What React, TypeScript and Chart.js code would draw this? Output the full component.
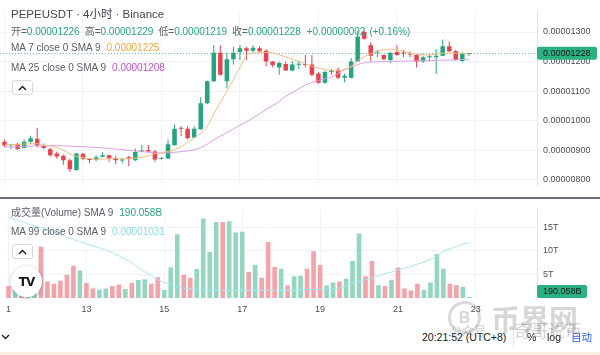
import React, { useEffect, useRef } from 'react';
import { Chart, registerables } from 'chart.js';

Chart.register(...registerables);

// ---------------- data ----------------
// 4h candles, 11th 00:00 -> 22nd 20:00 (UTC+8). Prices in units of 1e-8 USDT.
const OPEN = [
  929, 917, 921, 908, 929, 939, 915, 903, 889, 881,
  866, 833, 888, 871, 868, 878, 883, 874, 865, 876,
  866, 894, 901, 896, 871, 872, 917, 976, 973, 943,
  971, 1059, 1133, 1230, 1133, 1208, 1232, 1245, 1237, 1245,
  1237, 1200, 1180, 1192, 1170, 1189, 1192, 1190, 1160, 1128,
  1165, 1172, 1145, 1145, 1200, 1300, 1255, 1231, 1222, 1205,
  1232, 1229, 1226, 1222, 1200, 1215, 1215, 1220, 1252, 1235,
  1202, 1226,
];
const HIGH = [
  936, 920, 926, 936, 949, 976, 923, 908, 896, 886,
  871, 891, 891, 873, 883, 893, 886, 881, 873, 881,
  906, 918, 918, 901, 876, 936, 986, 981, 981, 981,
  1079, 1136, 1255, 1255, 1230, 1250, 1257, 1250, 1255, 1253,
  1242, 1202, 1200, 1200, 1202, 1202, 1222, 1222, 1165, 1170,
  1175, 1180, 1160, 1212, 1305, 1305, 1265, 1240, 1225, 1232,
  1255, 1240, 1235, 1225, 1220, 1225, 1242, 1275, 1268, 1240,
  1232, 1229,
];
const LOW = [
  911, 903, 901, 906, 921, 909, 903, 878, 871, 851,
  826, 831, 866, 856, 863, 876, 861, 853, 856, 846,
  864, 893, 893, 861, 869, 871, 916, 948, 936, 941,
  969, 1056, 1130, 1152, 1110, 1190, 1205, 1205, 1230, 1230,
  1184, 1180, 1155, 1168, 1168, 1175, 1180, 1150, 1125, 1125,
  1155, 1140, 1130, 1143, 1200, 1274, 1200, 1215, 1205, 1195,
  1220, 1215, 1215, 1180, 1195, 1200, 1158, 1218, 1232, 1202,
  1198, 1219,
];
const CLOSE = [
  916, 919, 904, 929, 941, 916, 908, 883, 879, 866,
  836, 889, 871, 867, 876, 883, 871, 866, 869, 871,
  894, 899, 896, 869, 873, 920, 973, 973, 941, 973,
  1059, 1133, 1230, 1155, 1208, 1230, 1245, 1237, 1247, 1235,
  1200, 1188, 1195, 1170, 1190, 1190, 1188, 1155, 1128, 1165,
  1170, 1145, 1152, 1200, 1285, 1277, 1220, 1232, 1208, 1230,
  1222, 1227, 1224, 1200, 1215, 1218, 1220, 1252, 1235, 1205,
  1226, 1228,
];
// "MA 7 close 0 SMA 9" (orange) and "MA 25 close 0 SMA 9" (violet)
const MA7 = [
  918, 919, 920, 921, 922, 922, 916, 914, 909, 900,
  888, 879, 875, 872, 870, 870, 872, 872, 871, 871,
  873, 876, 881, 888, 891, 896, 902, 912, 927, 942,
  957, 981, 1023, 1062, 1100, 1139, 1181, 1220, 1228, 1230,
  1231, 1229, 1223, 1216, 1208, 1201, 1192, 1184, 1178, 1174,
  1169, 1169, 1174, 1184, 1202, 1216, 1226, 1235, 1240, 1240,
  1240, 1235, 1228, 1225, 1223, 1222, 1225, 1228, 1229, 1228,
  1228, 1225,
];
const MA25 = [
  910, 911, 912, 913, 914, 915, 915, 916, 915, 915,
  914, 913, 912, 911, 909, 908, 906, 904, 902, 900,
  898, 896, 893, 891, 890, 891, 893, 895, 898, 902,
  909, 921, 935, 948, 960, 972, 984, 996, 1009, 1023,
  1038, 1051, 1065, 1083, 1095, 1108, 1120, 1129, 1136, 1142,
  1148, 1160, 1172, 1181, 1190, 1196, 1198, 1199, 1200, 1200,
  1201, 1201, 1202, 1202, 1203, 1203, 1204, 1205, 1205, 1206,
  1207, 1208,
];
// Volume in billions (B)
const VOLUME_B = [
  2530, 1710, 2500, 1700, 2500, 10900, 3480, 3040, 3670, 4940,
  6840, 5820, 3160, 2020, 1770, 2020, 2530, 2850, 1900, 3160,
  3800, 4000, 3040, 4430, 1710, 6520, 13550, 4940, 4300, 6140,
  16900, 9750, 16150, 16150, 16300, 13900, 14060, 5500, 7030, 4300,
  11900, 6600, 6200, 2660, 4600, 4750, 6200, 9940, 7030, 2660,
  3300, 3480, 4100, 7850, 13700, 4600, 7850, 2720, 2530, 3900,
  6460, 2020, 1580, 3040, 1710, 3300, 9370, 6200, 3040, 2720,
  2400, 190.058,
];
// "MA 99 close 0 SMA 9" shown in the volume pane on its own scale (units of 1e-8)
const MA99 = [
  1088, 1083, 1079, 1073, 1069, 1064, 1060, 1055, 1049, 1043,
  1038, 1033, 1028, 1023, 1019, 1014, 1008, 1001, 993, 985,
  975, 965, 956, 947, 941, 935, 931, 928, 926, 925,
  924, 923, 923, 923, 923, 923, 923, 923, 923, 923,
  923, 923, 923, 923, 923, 924, 924, 925, 925, 926,
  927, 928, 933, 940, 943, 947, 951, 955, 961, 964,
  969, 973, 977, 982, 987, 993, 1000, 1011, 1017, 1022,
  1027, 1031,
];
const PRICE_TICKS = [800, 900, 1000, 1100, 1200, 1300];
const VOLUME_TICKS = [5000, 10000, 15000];
const DAY_TICK_INDEX = [0, 12, 24, 36, 48, 60, 72];
const DAY_TICK_LABELS = ['1', '13', '15', '17', '19', '21', '23'];

// ---------------- style ----------------
const FONT = '"Liberation Sans", Arial, "Noto Sans CJK SC", sans-serif';
const UP = '#26a480';
const DOWN = '#e5434f';
const VOL_UP = '#95d6c0';
const VOL_DOWN = '#f3a4aa';
const MA7_LINE = '#f1bd82';
const MA25_LINE = '#df9ee6';
const MA99_LINE = '#a9e7ee';
const GRID = '#f0f2f6';
const AXIS_TEXT = '#4a4d57';
const LABEL_TEXT = '#5b5e69';

const X_MIN = -0.69;
const X_MAX = 81.42;

const fmtPrice = (v: number) => (v / 1e8).toFixed(8);
const LAST = CLOSE.length - 1;

export default function App() {
  const priceRef = useRef<HTMLCanvasElement>(null);
  const volRef = useRef<HTMLCanvasElement>(null);

  useEffect(() => {
    Chart.defaults.font.family = FONT;
    const idx = CLOSE.map((_, i) => i);
    const isUp = idx.map((i) => CLOSE[i] >= OPEN[i]);

    const xScale = (showTicks: boolean): any => ({
      type: 'linear',
      min: X_MIN,
      max: X_MAX,
      offset: false,
      display: true,
      grid: { offset: false, color: GRID, drawTicks: false, lineWidth: 1 },
      border: { display: false },
      afterBuildTicks: (s: any) => {
        s.ticks = DAY_TICK_INDEX.map((v) => ({ value: v }));
      },
      afterFit: showTicks ? (s: any) => { s.height = 24; } : (s: any) => { s.height = 0; },
      ticks: {
        display: showTicks,
        autoSkip: false,
        maxRotation: 0,
        padding: 6,
        color: AXIS_TEXT,
        font: { size: 9 },
        callback: (v: any) => {
          const k = DAY_TICK_INDEX.indexOf(Number(v));
          return k >= 0 ? DAY_TICK_LABELS[k] : '';
        },
      },
    });

    const lastPricePlugin = {
      id: 'lastPrice',
      beforeDatasetsDraw(chart: any) {
        const { ctx, chartArea } = chart;
        const y = Math.round(chart.scales.y.getPixelForValue(CLOSE[LAST])) + 0.5;
        ctx.save();
        ctx.strokeStyle = '#5cc3a4';
        ctx.lineWidth = 1;
        ctx.setLineDash([1, 2]);
        ctx.beginPath();
        ctx.moveTo(chartArea.left, y);
        ctx.lineTo(chartArea.right, y);
        ctx.stroke();
        ctx.restore();
      },
      afterDraw(chart: any) {
        const { ctx, chartArea } = chart;
        const y = chart.scales.y.getPixelForValue(CLOSE[LAST]);
        ctx.save();
        ctx.fillStyle = '#2bb07f';
        ctx.beginPath();
        ctx.roundRect(chartArea.right, y - 6.5, 60, 13, 2);
        ctx.fill();
        ctx.fillStyle = '#131722';
        ctx.font = `9px ${FONT}`;
        ctx.textBaseline = 'middle';
        ctx.textAlign = 'left';
        ctx.fillText(fmtPrice(CLOSE[LAST]), chartArea.right + 6, y + 0.5);
        ctx.restore();
      },
    };

    const priceChart = new Chart(priceRef.current as HTMLCanvasElement, {
      type: 'bar',
      data: {
        datasets: [
          {
            type: 'line',
            data: idx.map((i) => ({ x: i, y: MA7[i] })),
            borderColor: MA7_LINE,
            borderWidth: 1,
            pointRadius: 0,
            cubicInterpolationMode: 'monotone',
            order: 0,
          } as any,
          {
            type: 'line',
            data: idx.map((i) => ({ x: i, y: MA25[i] })),
            borderColor: MA25_LINE,
            borderWidth: 1,
            pointRadius: 0,
            cubicInterpolationMode: 'monotone',
            order: 0,
          } as any,
          {
            type: 'bar',
            data: idx.map((i) => ({ x: i, y: [OPEN[i], CLOSE[i]] })),
            backgroundColor: isUp.map((u) => (u ? UP : DOWN)),
            grouped: false,
            maxBarThickness: 4.5,
            minBarLength: 1,
            borderWidth: 0,
            order: 1,
          } as any,
          {
            type: 'bar',
            data: idx.map((i) => ({ x: i, y: [LOW[i], HIGH[i]] })),
            backgroundColor: isUp.map((u) => (u ? UP : DOWN)),
            grouped: false,
            maxBarThickness: 1,
            borderWidth: 0,
            order: 2,
          } as any,
        ],
      },
      options: {
        responsive: false,
        animation: false,
        events: [],
        layout: { padding: 0 },
        plugins: { legend: { display: false }, tooltip: { enabled: false } },
        scales: {
          x: xScale(false),
          y: {
            position: 'right',
            min: 780.4,
            max: 1369.7,
            grid: { color: GRID, drawTicks: false },
            border: { display: true, color: '#e0e3eb' },
            afterFit: (s: any) => { s.width = 63; },
            afterBuildTicks: (s: any) => {
              s.ticks = PRICE_TICKS.map((v) => ({ value: v }));
            },
            ticks: {
              padding: 6,
              color: AXIS_TEXT,
              font: { size: 9 },
              callback: (v: any) => fmtPrice(Number(v)),
            },
          },
        } as any,
      },
      plugins: [lastPricePlugin],
    });

    const volLabelPlugin = {
      id: 'volLabel',
      afterDraw(chart: any) {
        const { ctx, chartArea } = chart;
        let y = chart.scales.y.getPixelForValue(VOLUME_B[LAST]);
        y = Math.min(y, chartArea.bottom - 6.5);
        ctx.save();
        ctx.fillStyle = '#2bb07f';
        ctx.beginPath();
        ctx.roundRect(chartArea.right, y - 6.5, 50, 13, 2);
        ctx.fill();
        ctx.fillStyle = '#131722';
        ctx.font = `9px ${FONT}`;
        ctx.textBaseline = 'middle';
        ctx.textAlign = 'left';
        ctx.fillText(`${VOLUME_B[LAST].toFixed(3)}B`, chartArea.right + 6, y + 0.5);
        ctx.restore();
      },
    };

    const volChart = new Chart(volRef.current as HTMLCanvasElement, {
      type: 'bar',
      data: {
        datasets: [
          {
            type: 'line',
            yAxisID: 'yMa',
            data: idx.map((i) => ({ x: i, y: MA99[i] })),
            borderColor: MA99_LINE,
            borderWidth: 1,
            pointRadius: 0,
            cubicInterpolationMode: 'monotone',
            order: 0,
          } as any,
          {
            type: 'bar',
            yAxisID: 'y',
            data: idx.map((i) => ({ x: i, y: VOLUME_B[i] })),
            backgroundColor: isUp.map((u) => (u ? VOL_UP : VOL_DOWN)),
            grouped: false,
            maxBarThickness: 5,
            borderWidth: 0,
            order: 1,
          } as any,
        ],
      },
      options: {
        responsive: false,
        animation: false,
        events: [],
        layout: { padding: { top: 1, left: 0, right: 0, bottom: 0 } },
        plugins: { legend: { display: false }, tooltip: { enabled: false } },
        scales: {
          x: xScale(true),
          y: {
            position: 'right',
            min: 0,
            max: 18821,
            grid: { color: GRID, drawTicks: false },
            border: { display: true, color: '#e0e3eb' },
            afterFit: (s: any) => { s.width = 63; },
            afterBuildTicks: (s: any) => {
              s.ticks = VOLUME_TICKS.map((v) => ({ value: v }));
            },
            ticks: {
              padding: 6,
              color: AXIS_TEXT,
              font: { size: 9 },
              callback: (v: any) => `${Number(v) / 1000}T`,
            },
          },
          yMa: {
            display: false,
            min: 905.7,
            max: 1105.7,
          },
        } as any,
      },
      plugins: [volLabelPlugin],
    });

    return () => {
      priceChart.destroy();
      volChart.destroy();
    };
  }, []);

  const prev = CLOSE[LAST - 1];
  const chg = CLOSE[LAST] - prev;
  const pct = ((chg / prev) * 100).toFixed(2);

  const abs = (extra: React.CSSProperties): React.CSSProperties => ({
    position: 'absolute',
    whiteSpace: 'nowrap',
    ...extra,
  });

  const chevron = (up: boolean) => (
    <svg width="9" height="6" viewBox="0 0 9 6" style={{ display: 'block' }}>
      <polyline
        points={up ? '1,5 4.5,1.5 8,5' : '1,1 4.5,4.5 8,1'}
        fill="none"
        stroke="#131722"
        strokeWidth="1.3"
      />
    </svg>
  );

  const collapseBox = (top: number) => (
    <div
      style={abs({
        left: 12,
        top,
        width: 21,
        height: 15,
        boxSizing: 'border-box',
        border: '1px solid #d6d8de',
        borderRadius: 3,
        background: '#ffffff',
        display: 'flex',
        alignItems: 'center',
        justifyContent: 'center',
      })}
    >
      {chevron(true)}
    </div>
  );

  const UPT = '#26a480';

  return (
    <div
      style={{
        position: 'fixed',
        left: 0,
        top: 0,
        width: 600,
        height: 355,
        overflow: 'hidden',
        background: '#ffffff',
        fontFamily: FONT,
      }}
    >
      <canvas ref={priceRef} width={600} height={197} style={{ position: 'absolute', left: 0, top: 0, display: 'block' }} />
      <canvas ref={volRef} width={600} height={124} style={{ position: 'absolute', left: 0, top: 198, display: 'block' }} />
      <div style={abs({ left: 0, top: 197, width: 600, height: 2, background: '#6a6d78' })} />

      {/* price pane legend */}
      <div style={abs({ left: 11, top: 6, height: 16, lineHeight: '16px', fontSize: 11.5, color: '#434651' })}>
        PEPEUSDT · 4小时 · Binance
      </div>
      <div style={abs({ left: 11, top: 24.5, height: 14, lineHeight: '14px', fontSize: 10, color: LABEL_TEXT })}>
        <span>开=</span><span style={{ color: UPT }}>{fmtPrice(OPEN[LAST])}</span>
        <span style={{ marginLeft: 5 }}>高=</span><span style={{ color: UPT }}>{fmtPrice(HIGH[LAST])}</span>
        <span style={{ marginLeft: 5 }}>低=</span><span style={{ color: UPT }}>{fmtPrice(LOW[LAST])}</span>
        <span style={{ marginLeft: 5 }}>收=</span><span style={{ color: UPT }}>{fmtPrice(CLOSE[LAST])}</span>
        <span style={{ marginLeft: 6, color: UPT }}>+{fmtPrice(chg)}</span>
        <span style={{ marginLeft: 4, color: UPT }}>(+{pct}%)</span>
      </div>
      <div style={abs({ left: 11, top: 41.3, height: 14, lineHeight: '14px', fontSize: 10, color: LABEL_TEXT })}>
        MA 7 close 0 SMA 9<span style={{ marginLeft: 6, color: '#eea53c' }}>{fmtPrice(MA7[LAST])}</span>
      </div>
      <div style={abs({ left: 11, top: 60.7, height: 14, lineHeight: '14px', fontSize: 10, color: LABEL_TEXT })}>
        MA 25 close 0 SMA 9<span style={{ marginLeft: 6, color: '#c24fd0' }}>{fmtPrice(MA25[LAST])}</span>
      </div>
      {collapseBox(80)}

      {/* volume pane legend */}
      <div style={abs({ left: 11, top: 206.3, height: 14, lineHeight: '14px', fontSize: 10, color: LABEL_TEXT })}>
        成交量(Volume) SMA 9<span style={{ marginLeft: 6, color: UPT }}>{VOLUME_B[LAST].toFixed(3)}B</span>
      </div>
      <div style={abs({ left: 11, top: 225, height: 14, lineHeight: '14px', fontSize: 10, color: LABEL_TEXT })}>
        MA 99 close 0 SMA 9<span style={{ marginLeft: 6, color: '#86dcea' }}>{fmtPrice(MA99[LAST])}</span>
      </div>
      {collapseBox(244)}
      <div
        style={abs({
          left: 11,
          top: 266,
          width: 31,
          height: 31,
          borderRadius: '50%',
          background: '#ffffff',
          boxShadow: '0 1px 4px rgba(0,0,0,0.25)',
          display: 'flex',
          alignItems: 'center',
          justifyContent: 'center',
          fontFamily: '"DejaVu Sans", sans-serif',
          fontWeight: 900,
          fontSize: 12,
          letterSpacing: -1,
          color: '#131722',
        })}
      >
        TV
      </div>

      {/* bottom bar */}
      <div style={abs({ left: 1, top: 334 })}>{chevron(false)}</div>
      <div style={abs({ left: 422, top: 330, height: 14, lineHeight: '14px', fontSize: 10.5, color: '#131722' })}>
        20:21:52 (UTC+8)
      </div>
      <div style={abs({ left: 513, top: 327, width: 1, height: 20, background: '#e0e3eb' })} />
      <div style={abs({ left: 527, top: 330, height: 14, lineHeight: '14px', fontSize: 10.5, color: '#131722' })}>%</div>
      <div style={abs({ left: 547, top: 330, height: 14, lineHeight: '14px', fontSize: 10.5, color: '#131722' })}>log</div>
      <div style={abs({ left: 571, top: 330, height: 14, lineHeight: '14px', fontSize: 10.5, color: '#2962ff' })}>自动</div>

      {/* watermark */}
      <div
        style={abs({
          left: 448,
          top: 301,
          width: 33,
          height: 33,
          boxSizing: 'border-box',
          borderRadius: '50%',
          border: '3px solid rgba(120,120,120,0.28)',
          display: 'flex',
          alignItems: 'center',
          justifyContent: 'center',
          fontSize: 16,
          fontWeight: 700,
          color: 'rgba(120,120,120,0.3)',
        })}
      >
        B
      </div>
      <div style={abs({ left: 491, top: 302, height: 32, lineHeight: '32px', fontSize: 29, fontWeight: 700, color: 'rgba(120,120,120,0.3)', fontFamily: '"Noto Sans CJK SC", sans-serif' })}>
        币界网
      </div>
      <div style={abs({ left: 450, top: 322, height: 18, lineHeight: '18px', fontSize: 12, color: 'rgba(110,110,110,0.35)', fontFamily: '"Noto Sans CJK SC", sans-serif' })}>
        公众号
      </div>
      <div style={abs({ left: 514, top: 320, height: 20, lineHeight: '20px', fontSize: 17, color: 'rgba(110,110,110,0.3)', fontFamily: '"Noto Sans CJK SC", sans-serif' })}>
        奇哥说币
      </div>
      <div style={abs({ left: 0, top: 352, width: 600, height: 3, background: '#fcefe2' })} />
    </div>
  );
}
